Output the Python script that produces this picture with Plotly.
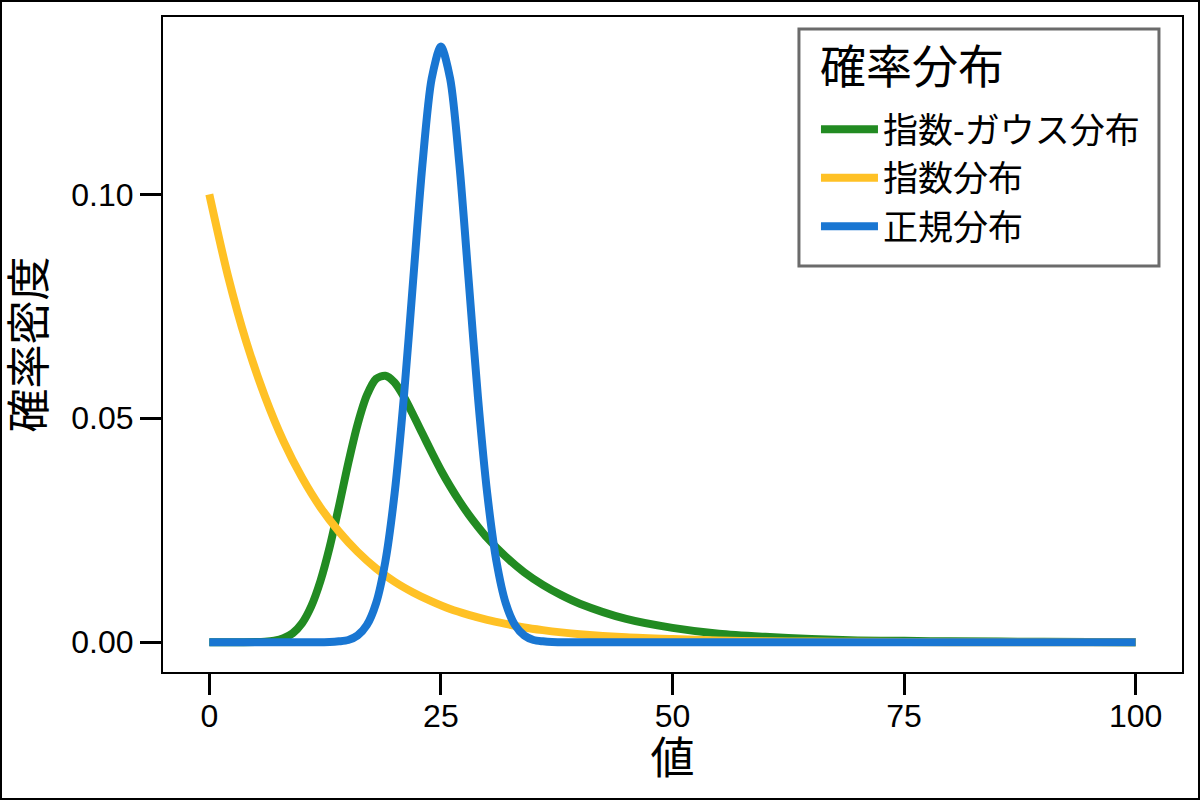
import plotly.graph_objects as go

# --- values ---
# exponential distribution (指数分布)
exp_x = [0, 2, 4, 6, 8, 10, 12, 14, 16, 18, 20, 22, 24, 26, 28, 30, 32, 34, 36, 38, 40,
         45, 50, 55, 60, 65, 70, 80, 90, 100]
exp_y = [0.1000, 0.0819, 0.0670, 0.0549, 0.0449, 0.0368, 0.0301, 0.0247, 0.0202, 0.0165,
         0.0135, 0.0111, 0.0091, 0.0074, 0.0061, 0.0050, 0.0041, 0.0033, 0.0027, 0.0022,
         0.0018, 0.0011, 0.0007, 0.0004, 0.0002, 0.00015, 0.0001, 0.0000, 0.0000, 0.0000]

# normal distribution (正規分布)
norm_x = [0, 5, 10, 12, 13, 14, 15, 16, 17, 18, 19, 20, 21, 22, 23, 24, 25, 26, 27, 28,
          29, 30, 31, 32, 33, 34, 35, 36, 37, 38, 40, 45, 50, 60, 70, 80, 90, 100]
norm_y = [0.0, 0.0, 0.0, 0.0, 0.00004, 0.0002, 0.0005, 0.0015, 0.0038, 0.0087,
          0.0180, 0.0332, 0.0547, 0.0807, 0.1065, 0.1258, 0.1330, 0.1258, 0.1065,
          0.0807, 0.0547, 0.0332, 0.0180, 0.0087, 0.0038, 0.0015, 0.0005, 0.0002,
          0.00004, 0.0, 0.0, 0.0, 0.0, 0.0, 0.0, 0.0, 0.0, 0.0]

# exponentially modified gaussian (指数-ガウス分布)
emg_x = [0, 3, 5, 6, 7, 8, 9, 10, 11, 12, 13, 14, 15, 16, 17, 18, 19, 20, 21, 22, 23,
         24, 25, 26, 27, 28, 29, 30, 32, 34, 36, 38, 40, 45, 50, 55, 60, 65, 70, 75,
         80, 90, 100]
emg_y = [0.0, 0.0, 0.00004, 0.00012, 0.00035, 0.00089, 0.0020, 0.0042, 0.0080, 0.0137,
         0.0213, 0.0304, 0.0400, 0.0486, 0.0551, 0.0588, 0.0595, 0.0580, 0.0548, 0.0508,
         0.0466, 0.0424, 0.0384, 0.0348, 0.0315, 0.0285, 0.0258, 0.0233, 0.0191, 0.0156,
         0.0128, 0.0105, 0.0086, 0.0052, 0.0032, 0.0019, 0.0012, 0.0007, 0.0004, 0.0003,
         0.0002, 0.0001, 0.0000]

x_ticks = [0, 25, 50, 75, 100]
y_ticks = [0.00, 0.05, 0.10]

FONT = 'Liberation Sans, Noto Sans CJK JP'

fig = go.Figure()

# draw order: green, yellow, blue (blue sits on top)
fig.add_scatter(x=emg_x, y=emg_y, mode='lines', name='指数-ガウス分布',
                line=dict(color='#228B22', width=8, shape='spline', smoothing=0.8))
fig.add_scatter(x=exp_x, y=exp_y, mode='lines', name='指数分布',
                line=dict(color='#FFC125', width=8, shape='spline', smoothing=0.8))
fig.add_scatter(x=norm_x, y=norm_y, mode='lines', name='正規分布',
                line=dict(color='#1976D2', width=8, shape='spline', smoothing=0.8))

axis_common = dict(
    showline=True, linecolor='black', linewidth=2, mirror=True,
    ticks='outside', ticklen=21, tickwidth=3, tickcolor='black',
    showgrid=False, zeroline=False,
    tickfont=dict(family=FONT, size=32, color='black'),
)

fig.update_layout(
    width=1200, height=800,
    paper_bgcolor='white', plot_bgcolor='white',
    margin=dict(l=163, r=18, t=17, b=128),
    font=dict(family=FONT, color='black'),
    xaxis=dict(range=[-5, 105], tickvals=x_ticks, ticklabelstandoff=-6,
               title=dict(text='値', font=dict(family=FONT, size=44), standoff=2),
               **axis_common),
    yaxis=dict(range=[-0.00665, 0.1396], tickvals=y_ticks, tickformat='.2f',
               title=dict(text='確率密度', font=dict(family=FONT, size=44), standoff=12),
               **axis_common),
    legend=dict(
        font=dict(family=FONT, size=35),
        x=0.6408, xanchor='left', y=0.8733, yanchor='top',
        bgcolor='rgba(0,0,0,0)', borderwidth=0, itemwidth=57,
    ),
    showlegend=True,
)

# legend frame + title
fig.add_shape(type='rect', xref='paper', yref='paper', layer='above',
              x0=0.6241, x1=0.9774, y0=0.6198, y1=0.9817,
              line=dict(color='#6b6b6b', width=3), fillcolor='white')
fig.add_annotation(text='確率分布', xref='paper', yref='paper', x=0.6428, y=0.9237,
                   xanchor='left', yanchor='middle', showarrow=False,
                   font=dict(family=FONT, size=46, color='black'))

# thin black frame around the whole figure
fig.add_shape(type='rect', xref='paper', yref='paper',
              x0=-0.15898, x1=1.01668, y0=-0.19389, y1=1.02443,
              line=dict(color='black', width=2))

fig.write_html("out.html", config={'displayModeBar': False},
               post_script="document.body.style.margin='0';")
